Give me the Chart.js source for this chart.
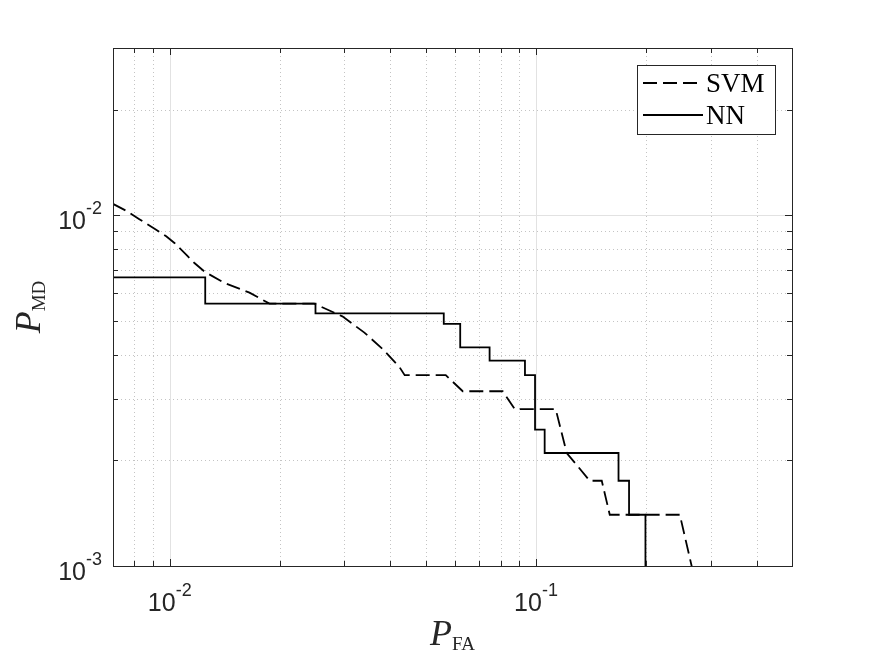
<!DOCTYPE html>
<html lang="en">
<head>
<meta charset="UTF-8">
<title>P_MD vs P_FA</title>
<script src="https://cdn.jsdelivr.net/npm/chart.js"></script>
<style>
  html, body { margin: 0; padding: 0; background: #fff; }
</style>
</head>
<body>
<canvas id="rocChart" width="875" height="657"></canvas>
<script>
// SVM curve (dashed)
const svmFA = [0.007, 0.0076, 0.00826, 0.00918, 0.00978, 0.0103, 0.01109, 0.01168, 0.01244, 0.01411,
               0.01651, 0.01872, 0.0248, 0.0296, 0.034, 0.0381, 0.0424, 0.0438, 0.0567, 0.0631,
               0.0811, 0.0875, 0.1132, 0.1213, 0.1402, 0.1512, 0.159, 0.247, 0.2795];
const svmMD = [0.01078, 0.01031, 0.00975, 0.0091, 0.00871, 0.00834, 0.00772, 0.00731, 0.00691, 0.00641,
               0.00602, 0.0056, 0.0056, 0.00515, 0.00463, 0.00416, 0.00369, 0.0035, 0.0035, 0.00315,
               0.00315, 0.0028, 0.0028, 0.0021, 0.00175, 0.00175, 0.0014, 0.0014, 0.0008];

// NN curve (solid staircase): level holds until the next breakpoint
const nnFA = [0.006, 0.0125, 0.025, 0.056, 0.0621, 0.0747, 0.0933, 0.0994, 0.1056, 0.168, 0.1795, 0.199];
const nnMD = [0.00665, 0.0056, 0.00525, 0.0049, 0.0042, 0.00385, 0.0035, 0.00245, 0.0021, 0.00175, 0.0014, 0.0006];

const seriesNames = ['SVM', 'NN'];
const xTickExps = [-2, -1];
const yTickExps = [-3, -2];
const xRange = [0.007, 0.5];
const yRange = [0.001, 0.03];

const ink = '#262626';
const sansFont = '"Liberation Sans", Arial, sans-serif';
const serifFont = '"Liberation Serif", "Times New Roman", serif';

function toPoints(xs, ys) {
    return xs.map((v, i) => ({ x: v, y: ys[i] }));
}

// 1..9 x 10^n inside a range, flagged major for the powers of ten
function logTicks(lo, hi) {
    const out = [];
    for (let e = Math.floor(Math.log10(lo)); e <= Math.ceil(Math.log10(hi)); e++) {
        for (let k = 1; k <= 9; k++) {
            const v = k * Math.pow(10, e);
            if (v > lo * 1.001 && v < hi * 0.999) out.push({ v: v, major: k === 1 });
        }
    }
    return out;
}

function drawPow(ctx, exp, x, baseY, align) {
    const base = '10', sup = String(exp);
    ctx.font = '25px ' + sansFont;
    const wb = ctx.measureText(base).width;
    ctx.font = '18px ' + sansFont;
    const ws = ctx.measureText(sup).width;
    const left = align === 'right' ? x - wb - ws : x - (wb + ws) / 2;
    ctx.fillStyle = ink;
    ctx.textAlign = 'left';
    ctx.textBaseline = 'alphabetic';
    ctx.font = '25px ' + sansFont;
    ctx.fillText(base, left, baseY);
    ctx.font = '18px ' + sansFont;
    ctx.fillText(sup, left + wb, baseY - 15);
}

function drawSubLabel(ctx, main, sub, cx, baseY) {
    ctx.font = 'italic 36px ' + serifFont;
    const wm = ctx.measureText(main).width;
    ctx.font = '19px ' + serifFont;
    const wsub = ctx.measureText(sub).width;
    const left = cx - (wm + wsub) / 2;
    ctx.fillStyle = ink;
    ctx.textAlign = 'left';
    ctx.textBaseline = 'alphabetic';
    ctx.font = 'italic 36px ' + serifFont;
    ctx.fillText(main, left, baseY);
    ctx.font = '19px ' + serifFont;
    ctx.fillText(sub, left + wm, baseY + 5);
}

const matlabAxes = {
    id: 'matlabAxes',
    beforeDatasetsDraw(chart) {
        const { ctx, chartArea: a, scales: { x, y } } = chart;
        const xt = logTicks(xRange[0], xRange[1]);
        const yt = logTicks(yRange[0], yRange[1]);
        ctx.save();
        ctx.lineWidth = 1;
        // minor grid, dotted
        ctx.strokeStyle = '#c4c4c4';
        ctx.setLineDash([1, 3]);
        xt.filter(t => !t.major).forEach(t => {
            const px = Math.round(x.getPixelForValue(t.v)) + 0.5;
            ctx.beginPath(); ctx.moveTo(px, a.top); ctx.lineTo(px, a.bottom); ctx.stroke();
        });
        yt.filter(t => !t.major).forEach(t => {
            const py = Math.round(y.getPixelForValue(t.v)) + 0.5;
            ctx.beginPath(); ctx.moveTo(a.left, py); ctx.lineTo(a.right, py); ctx.stroke();
        });
        // major grid, solid light
        ctx.setLineDash([]);
        ctx.strokeStyle = '#e2e2e2';
        xt.filter(t => t.major).forEach(t => {
            const px = Math.round(x.getPixelForValue(t.v)) + 0.5;
            ctx.beginPath(); ctx.moveTo(px, a.top); ctx.lineTo(px, a.bottom); ctx.stroke();
        });
        yt.filter(t => t.major).forEach(t => {
            const py = Math.round(y.getPixelForValue(t.v)) + 0.5;
            ctx.beginPath(); ctx.moveTo(a.left, py); ctx.lineTo(a.right, py); ctx.stroke();
        });
        ctx.restore();
    },
    afterDatasetsDraw(chart) {
        const { ctx, chartArea: a, scales: { x, y } } = chart;
        const xt = logTicks(xRange[0], xRange[1]);
        const yt = logTicks(yRange[0], yRange[1]);
        ctx.save();
        ctx.strokeStyle = ink;
        ctx.lineWidth = 1;
        ctx.setLineDash([]);
        // inward ticks on all four sides
        xt.forEach(t => {
            const px = Math.round(x.getPixelForValue(t.v)) + 0.5;
            const len = t.major ? 7 : 5;
            ctx.beginPath();
            ctx.moveTo(px, a.bottom); ctx.lineTo(px, a.bottom - len);
            ctx.moveTo(px, a.top); ctx.lineTo(px, a.top + len);
            ctx.stroke();
        });
        yt.forEach(t => {
            const py = Math.round(y.getPixelForValue(t.v)) + 0.5;
            const len = t.major ? 7 : 5;
            ctx.beginPath();
            ctx.moveTo(a.left, py); ctx.lineTo(a.left + len, py);
            ctx.moveTo(a.right, py); ctx.lineTo(a.right - len, py);
            ctx.stroke();
        });
        ctx.strokeRect(a.left + 0.5, a.top + 0.5, a.right - a.left, a.bottom - a.top);

        // tick labels
        xTickExps.forEach(e => drawPow(ctx, e, x.getPixelForValue(Math.pow(10, e)), a.bottom + 45, 'center'));
        yTickExps.forEach(e => drawPow(ctx, e, a.left - 11, y.getPixelForValue(Math.pow(10, e)) + 13.5, 'right'));

        // axis titles
        drawSubLabel(ctx, 'P', 'FA', (a.left + a.right) / 2, 645);
        ctx.save();
        ctx.translate(40, (a.top + a.bottom) / 2);
        ctx.rotate(-Math.PI / 2);
        drawSubLabel(ctx, 'P', 'MD', 0, 0);
        ctx.restore();

        // legend box in the upper right
        const lx = 637, ly = 65, lw = 138, lh = 69;
        ctx.fillStyle = '#fff';
        ctx.fillRect(lx, ly, lw, lh);
        ctx.strokeStyle = ink;
        ctx.strokeRect(lx + 0.5, ly + 0.5, lw, lh);
        chart.data.datasets.forEach((ds, i) => {
            const rowY = ly + 18 + i * 32;
            ctx.strokeStyle = ds.borderColor;
            ctx.lineWidth = ds.borderWidth;
            ctx.setLineDash(ds.borderDash || []);
            ctx.beginPath(); ctx.moveTo(lx + 6, rowY); ctx.lineTo(lx + 66, rowY); ctx.stroke();
            ctx.setLineDash([]);
            ctx.fillStyle = '#000';
            ctx.font = '27px ' + serifFont;
            ctx.textAlign = 'left';
            ctx.textBaseline = 'alphabetic';
            ctx.fillText(ds.label, lx + 69, rowY + 9);
        });
        ctx.restore();
    }
};

new Chart(document.getElementById('rocChart'), {
    type: 'line',
    data: {
        datasets: [{
            label: seriesNames[0],
            data: toPoints(svmFA, svmMD),
            borderColor: '#000',
            borderWidth: 1.8,
            borderDash: [14, 6],
            borderCapStyle: 'butt',
            pointRadius: 0,
            tension: 0,
            clip: 0
        }, {
            label: seriesNames[1],
            data: toPoints(nnFA, nnMD),
            borderColor: '#000',
            borderWidth: 1.8,
            stepped: 'before',
            pointRadius: 0,
            tension: 0,
            clip: 0
        }]
    },
    options: {
        responsive: false,
        animation: false,
        layout: { padding: { left: 113, right: 83, top: 48, bottom: 91 } },
        plugins: { legend: { display: false }, tooltip: { enabled: false } },
        scales: {
            x: { type: 'logarithmic', min: xRange[0], max: xRange[1], display: false },
            y: { type: 'logarithmic', min: yRange[0], max: yRange[1], display: false }
        }
    },
    plugins: [matlabAxes]
});
</script>
</body>
</html>
